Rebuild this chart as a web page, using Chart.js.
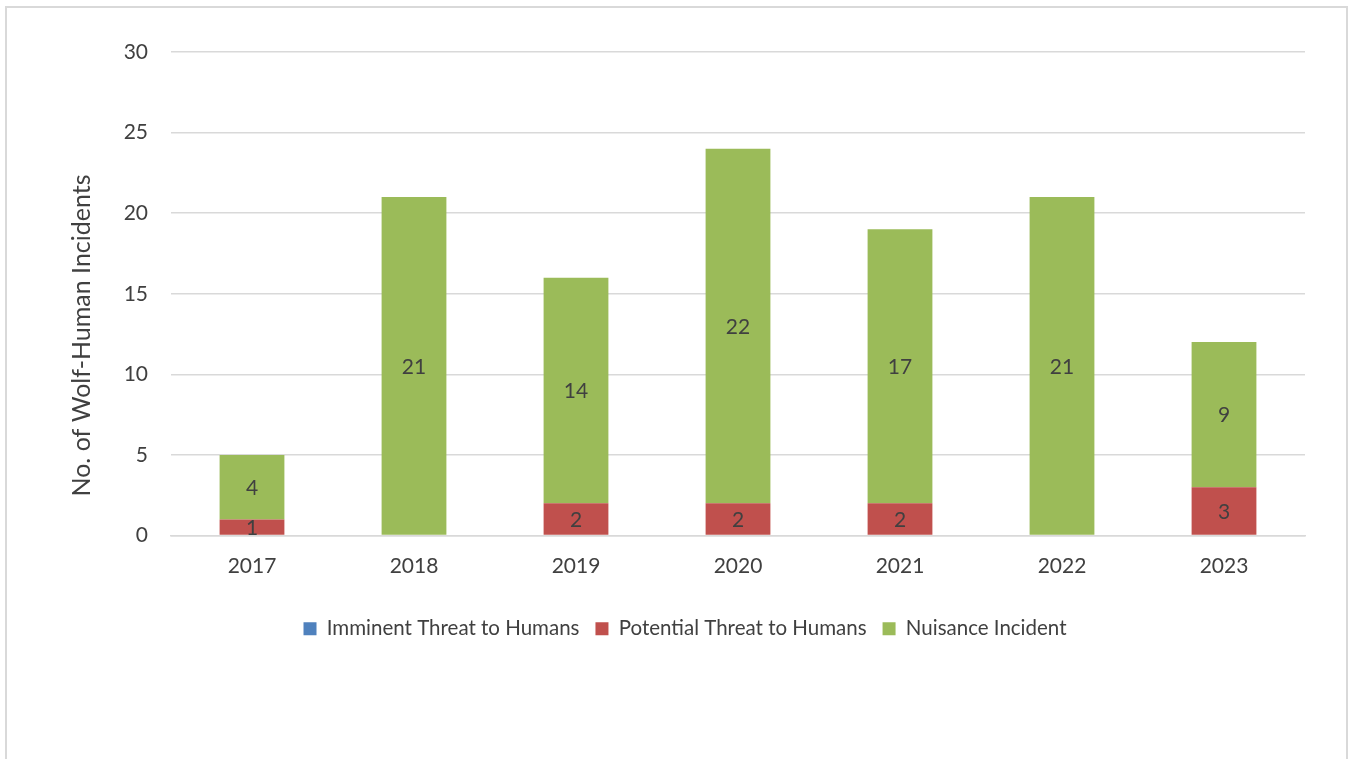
<!DOCTYPE html>
<html>
<head>
<meta charset="utf-8">
<script src="https://cdn.jsdelivr.net/npm/chart.js@4.4.1/dist/chart.umd.min.js"></script>
<style>
  html, body { margin: 0; padding: 0; background: #fff; overflow: hidden; }
  #wrap { position: relative; width: 1351px; height: 759px; }
  #frame { position: absolute; left: 5px; top: 6px; width: 1339px; height: 800px; border: 2px solid #d9d9d9; pointer-events: none; }
  canvas { position: absolute; left: 0; top: 0; }
</style>
</head>
<body>
<div id="wrap">
  <canvas id="c" width="1351" height="759"></canvas>
  <div id="frame"></div>
</div>
<script>
const categories = ["2017", "2018", "2019", "2020", "2021", "2022", "2023"];
const imminentThreat = [0, 0, 0, 0, 0, 0, 0];
const potentialThreat = [1, 0, 2, 2, 2, 0, 3];
const nuisanceIncident = [4, 21, 14, 22, 17, 21, 9];
const seriesNames = ["Imminent Threat to Humans", "Potential Threat to Humans", "Nuisance Incident"];
const yTitle = "No. of Wolf-Human Incidents";

const FONT = "Lato, 'Open Sans', sans-serif";
const TEXT = "#404040";

const barLabels = {
  id: 'barLabels',
  afterDatasetsDraw(chart) {
    const ctx = chart.ctx;
    ctx.save();
    ctx.font = "21px " + FONT;
    ctx.fillStyle = TEXT;
    ctx.textAlign = "center";
    ctx.textBaseline = "middle";
    chart.data.datasets.forEach((ds, i) => {
      const meta = chart.getDatasetMeta(i);
      meta.data.forEach((el, j) => {
        const v = ds.data[j];
        if (!v) return;
        const p = el.getProps(['x', 'y', 'base'], true);
        ctx.fillText(String(v), p.x, (p.y + p.base) / 2 + 1);
      });
    });
    ctx.restore();
  }
};

const yAxisTitle = {
  id: 'yAxisTitle',
  afterDraw(chart) {
    const ctx = chart.ctx;
    const a = chart.chartArea;
    ctx.save();
    ctx.font = "25px " + FONT;
    ctx.fillStyle = TEXT;
    ctx.textAlign = "center";
    ctx.textBaseline = "middle";
    ctx.translate(a.left - 89, a.bottom - 200);
    ctx.rotate(-Math.PI / 2);
    ctx.fillText(yTitle, 0, 0);
    ctx.restore();
  }
};

new Chart(document.getElementById('c'), {
  type: 'bar',
  data: {
    labels: categories,
    datasets: [
      { label: seriesNames[0], data: imminentThreat, backgroundColor: "#4F81BD" },
      { label: seriesNames[1], data: potentialThreat, backgroundColor: "#C0504D" },
      { label: seriesNames[2], data: nuisanceIncident, backgroundColor: "#9BBB59" }
    ]
  },
  options: {
    responsive: false,
    animation: false,
    devicePixelRatio: 1,
    layout: { padding: { left: 65, right: 46, top: 52, bottom: 110 } },
    datasets: { bar: { barPercentage: 0.4, categoryPercentage: 1.0, borderWidth: 0 } },
    scales: {
      x: {
        stacked: true,
        grid: { display: false, drawTicks: false },
        border: { display: true, color: "#d9d9d9", width: 1.5 },
        ticks: { color: TEXT, font: { family: FONT, size: 21 }, padding: 18 },
        afterFit(s) { s.height = 67; }
      },
      y: {
        stacked: true,
        min: 0, max: 30,
        grid: { color: "#d9d9d9", lineWidth: 1.5, drawTicks: false },
        border: { display: false },
        ticks: { stepSize: 5, color: TEXT, font: { family: FONT, size: 21 }, padding: 23 },
        title: { display: false },
        afterFit(s) { s.width = 106; }
      }
    },
    plugins: {
      legend: {
        position: 'bottom',
        labels: { color: TEXT, font: { family: FONT, size: 20.5 }, boxWidth: 13, boxHeight: 13, padding: 16 }
      },
      tooltip: { enabled: false }
    }
  },
  plugins: [barLabels, yAxisTitle]
});
</script>
</body>
</html>
